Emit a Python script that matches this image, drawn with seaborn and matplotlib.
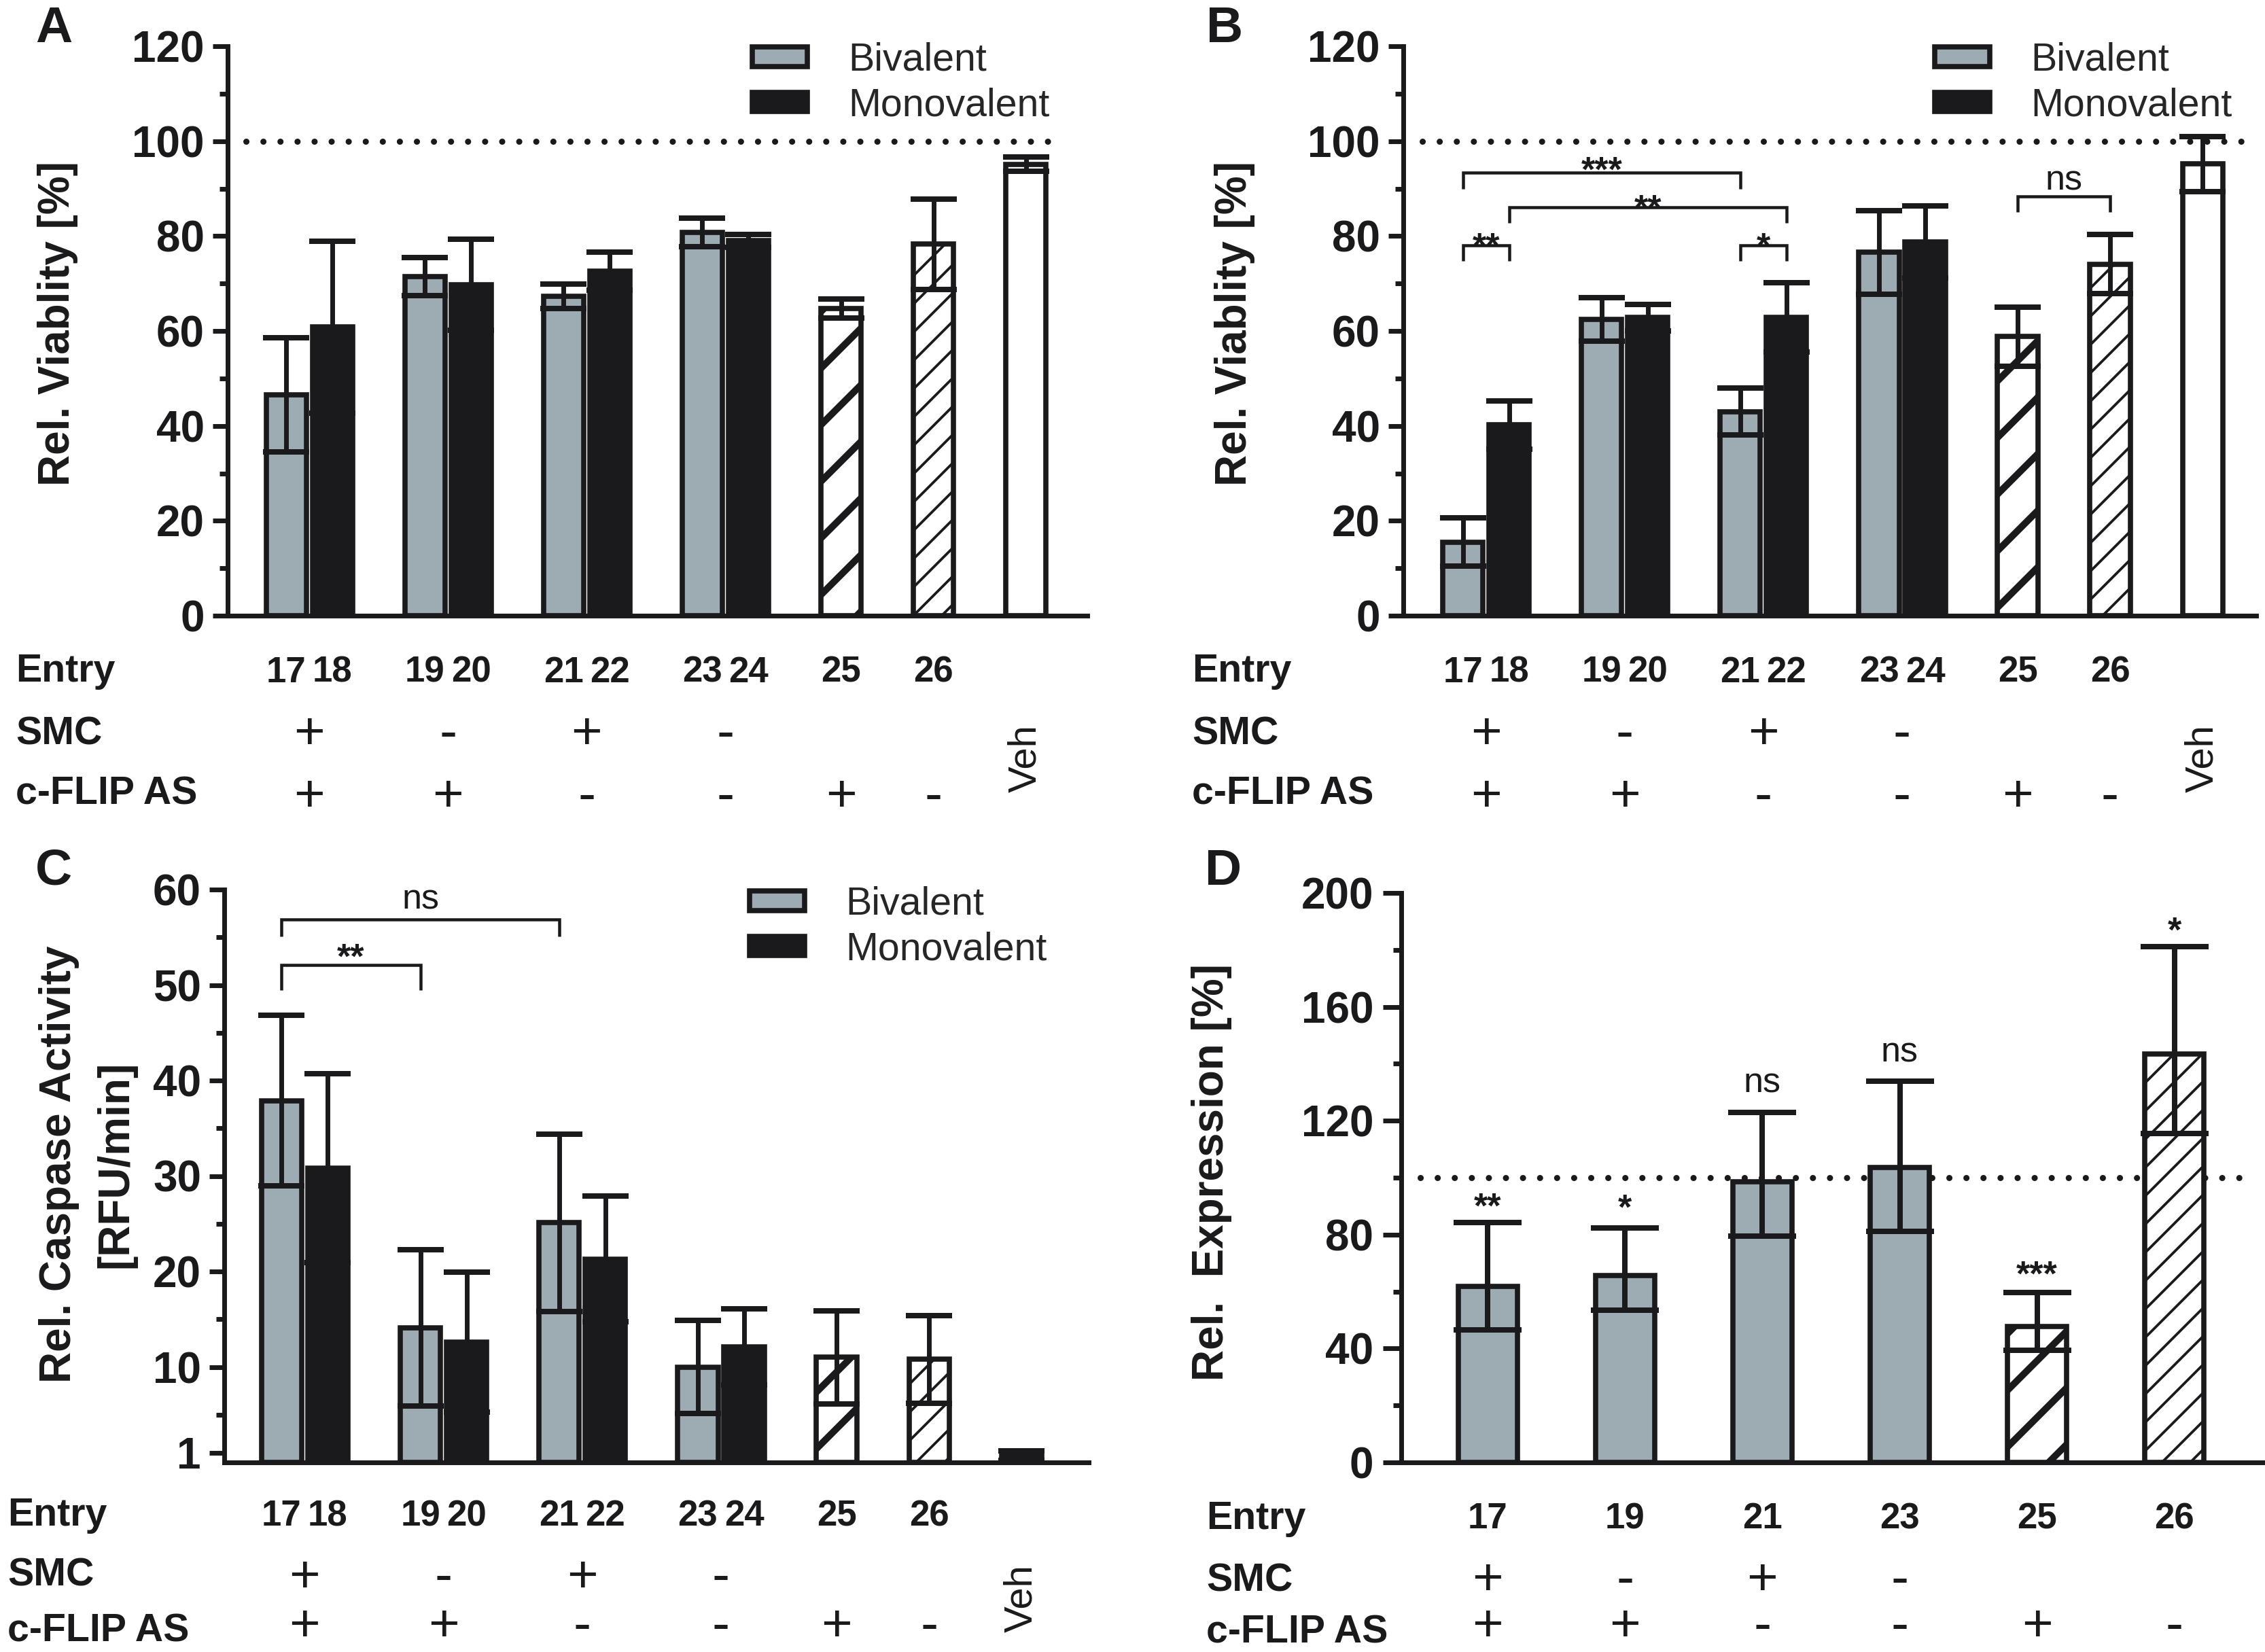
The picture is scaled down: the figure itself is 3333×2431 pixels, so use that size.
import numpy as np
import pandas as pd
import matplotlib
matplotlib.use("Agg")
import matplotlib.pyplot as plt
import seaborn as sns
from matplotlib.patches import Patch
from matplotlib.ticker import FixedLocator
from matplotlib.transforms import blended_transform_factory

# ---------------- values ----------------
entries = ["17", "18", "19", "20", "21", "22", "23", "24", "25", "26", "Veh"]
groups = [["17", "18"], ["19", "20"], ["21", "22"], ["23", "24"], ["25"], ["26"], ["Veh"]]
smc_marks = ["+", "-", "+", "-", "", "", ""]
flip_marks = ["+", "+", "-", "-", "+", "-", ""]

# A: relative viability [%]
viab_a_mean = [46.5, 60.8, 71.4, 69.7, 67.3, 72.6, 80.7, 79.0, 64.7, 78.3, 95.1]
viab_a_sd = [12.0, 18.1, 4.0, 9.6, 2.6, 4.0, 3.0, 1.4, 2.0, 9.5, 1.5]

# B: relative viability [%]
viab_b_mean = [15.5, 40.2, 62.4, 62.8, 43.0, 62.8, 76.6, 78.8, 58.8, 74.1, 95.2]
viab_b_sd = [5.1, 5.1, 4.6, 2.8, 4.9, 7.3, 8.8, 7.6, 6.2, 6.2, 5.8]
# (left, right, bracket height, text centre, label)
sig_b = [("17", "18", 78.1, 79.8, "**"),
         ("17", "21", 93.3, 95.8, "***"),
         ("18", "22", 86.0, 87.8, "**"),
         ("21", "22", 78.1, 79.8, "*"),
         ("25", "26", 88.4, 91.7, "ns")]

# C: caspase activity [RFU/min]
casp_mean = [37.9, 30.8, 14.1, 12.6, 25.1, 21.3, 10.0, 12.1, 11.0, 10.8, 0.7]
casp_sd = [8.9, 9.9, 8.2, 7.3, 9.3, 6.6, 4.9, 4.0, 4.9, 4.6, 0.5]
sig_c = [("17", "19", 52.1, 53.9, "**"),
         ("17", "21", 56.9, 58.9, "ns")]

# D: relative expression [%]
expr_entries = ["17", "19", "21", "23", "25", "26"]
expr_mean = [61.8, 65.7, 98.5, 103.6, 47.8, 143.5]
expr_lo = [46.5, 53.5, 79.5, 81.2, 39.4, 115.4]
expr_hi = [84.2, 82.3, 122.8, 134.0, 59.7, 181.2]
expr_sig = ["**", "*", "ns", "ns", "***", "*"]
expr_sig_y = [93.0, 92.5, 133.3, 144.0, 69.3, 190.0]
expr_smc = ["+", "-", "+", "-", "", ""]
expr_flip = ["+", "+", "-", "-", "+", "-"]

# ---------------- look ----------------
INK = "#1a1a1c"
GRAY = "#9dacb2"
W, H, DPI = 3333, 2431, 250

sns.set_style("ticks")
plt.rcParams["font.family"] = ["Liberation Sans", "DejaVu Sans"]
plt.rcParams["hatch.linewidth"] = 2.0
plt.rcParams["hatch.color"] = INK


def fx(px):
    return px / W


def fy(px):
    return 1 - px / H


fig = plt.figure(figsize=(W / DPI, H / DPI), dpi=DPI)


def make_axes(left, right, top, bottom):
    return fig.add_axes([fx(left), fy(bottom), (right - left) / W, (bottom - top) / H])


axA = make_axes(335, 1600, 68, 906)
axB = make_axes(2065, 3320, 68, 906)
axC = make_axes(330, 1602, 1309, 2152)
axD = make_axes(2062, 3333, 1314, 2152)

# slot positions: pairs touch, one empty slot between groups
pos = {}
cur = 0
for g in groups:
    for e in g:
        pos[e] = cur
        cur += 1
    cur += 1
positions = [pos[e] for e in entries]


def kind_of(e):
    if e == "Veh":
        return "veh"
    if e == "25":
        return "thick"
    if e == "26":
        return "thin"
    return "biv" if int(e) % 2 == 1 else "mono"


def set_hatch_lw(p, lw):
    if hasattr(p, "set_hatch_linewidth"):
        p.set_hatch_linewidth(lw)


def style_bar(p, kind):
    p.set_edgecolor(INK)
    p.set_linewidth(2.2)
    if kind == "biv":
        p.set_facecolor(GRAY)
    elif kind == "mono":
        p.set_facecolor(INK)
    elif kind == "thick":
        p.set_facecolor("white")
        p.set_hatch("/")
        set_hatch_lw(p, 2.9)
    elif kind == "thin":
        p.set_facecolor("white")
        p.set_hatch("//")
        set_hatch_lw(p, 1.1)
    else:
        p.set_facecolor("white")


def style_axis(ax, ymax, majors, minors, ticklen=6.3, pad=3.5):
    ax.set_ylim(0, ymax)
    sns.despine(ax=ax)
    for s in ("left", "bottom"):
        ax.spines[s].set_linewidth(2.0)
        ax.spines[s].set_color(INK)
    ax.set_yticks(majors, labels=[str(t) for t in majors], fontsize=18.4,
                  fontweight="bold", color=INK)
    ax.yaxis.set_minor_locator(FixedLocator(minors))
    ax.tick_params(axis="y", which="major", length=ticklen, width=2.0, color=INK, pad=pad)
    ax.tick_params(axis="y", which="minor", length=3.5, width=2.0, color=INK)
    ax.tick_params(axis="x", which="both", bottom=False, labelbottom=False)
    ax.set_xlabel("")
    ax.set_facecolor("none")


def dotted(ax, y, x0, x1):
    ax.axhline(y, xmin=x0, xmax=x1, color=INK, lw=2.6, linestyle=(0, (0.01, 2.77)),
               dash_capstyle="round", zorder=0.5)


def bar_panel(ax, means, sds, xlim):
    df = pd.DataFrame({"pos": positions, "val": means})
    sns.barplot(data=df, x="pos", y="val", native_scale=True, width=0.87,
                errorbar=None, color=GRAY, ax=ax, zorder=2)
    for p in ax.patches:
        c = p.get_x() + p.get_width() / 2
        i = int(np.argmin([abs(c - q) for q in positions]))
        style_bar(p, kind_of(entries[i]))
    ax.errorbar(positions, means, yerr=sds, fmt="none", ecolor=INK, elinewidth=2.0,
                capsize=9.8, capthick=2.3, zorder=3)
    ax.set_xlim(*xlim)
    ax.set_ylabel("")


def bracket(ax, a, b, y, leg):
    x1, x2 = pos[a], pos[b]
    ax.plot([x1, x1, x2, x2], [y - leg, y, y, y - leg], color=INK, lw=1.3,
            solid_joinstyle="miter", solid_capstyle="butt", zorder=4)


def sig_text(ax, x, y, label, size=15):
    # y is where the glyph centre sits; asterisks ride high in the em box
    star = "*" in label
    shift = -0.57 if star else -0.26
    ax.annotate(label, (x, y), xytext=(0, shift * size), textcoords="offset points",
                ha="center", va="baseline", fontsize=size,
                fontweight="bold" if star else "normal", color=INK, zorder=5)


def legend(ax, left_px, top_px):
    handles = [Patch(facecolor=GRAY, edgecolor=INK, linewidth=2.2, label="Bivalent"),
               Patch(facecolor=INK, edgecolor=INK, linewidth=2.2, label="Monovalent")]
    ax.legend(handles=handles, loc="upper left", bbox_to_anchor=(fx(left_px), fy(top_px)),
              bbox_transform=fig.transFigure, frameon=False, fontsize=16.5,
              handlelength=1.42, handleheight=0.39, handletextpad=1.05,
              labelspacing=0.22, borderpad=0, borderaxespad=0)


def panel_letter(letter, x_px, y_px):
    fig.text(fx(x_px), fy(y_px), letter, fontsize=21.6, fontweight="bold", color=INK,
             ha="center", va="center")


def table(ax, label_x, base, mark_base, numbers, num_x, smc, flip, mark_x, veh=None):
    tr = blended_transform_factory(ax.transData, fig.transFigure)
    for name, b in zip(["Entry", "SMC", "c-FLIP AS"], base):
        fig.text(fx(label_x), fy(b), name, fontsize=16.5, fontweight="bold",
                 color=INK, ha="left", va="baseline")
    for n, x in zip(numbers, num_x):
        ax.text(x, fy(mark_base[0]), n, transform=tr, fontsize=15.2, fontweight="bold",
                color=INK, ha="center", va="baseline")
    for marks, b in zip([smc, flip], mark_base[1:]):
        for m, x in zip(marks, mark_x):
            if m:
                ax.text(x, fy(b), m, transform=tr, fontsize=22.5, color=INK,
                        ha="center", va="baseline")
    if veh is not None:
        ax.text(pos["Veh"], fy(veh), "Veh", transform=tr, fontsize=16.7, color=INK,
                rotation=90, ha="center", va="center")


group_x = [np.mean([pos[e] for e in g]) for g in groups]
num_entries = [e for e in entries if e != "Veh"]
num_x = [pos[e] for e in num_entries]

# ---------------- A ----------------
bar_panel(axA, viab_a_mean, viab_a_sd, (-1.27, 17.33))
style_axis(axA, 120, list(range(0, 121, 20)), list(range(10, 120, 20)))
dotted(axA, 100, 0.021, 0.962)
axA.set_ylabel("Rel. Viablity [%]", fontsize=18.4, fontweight="bold", color=INK)
axA.yaxis.label.set_va("center")
axA.yaxis.set_label_coords(-0.198, 0.513)
legend(axA, 1107, 62)
panel_letter("A", 79, 43)
table(axA, 23, [1003, 1096, 1184], [1004, 1102, 1194], num_entries, num_x,
      smc_marks, flip_marks, group_x, veh=1116)

# ---------------- B ----------------
bar_panel(axB, viab_b_mean, viab_b_sd, (-1.29, 17.16))
style_axis(axB, 120, list(range(0, 121, 20)), list(range(10, 120, 20)))
dotted(axB, 100, 0.022, 0.99)
axB.set_ylabel("Rel. Viablity [%]", fontsize=18.4, fontweight="bold", color=INK)
axB.yaxis.label.set_va("center")
axB.yaxis.set_label_coords(-0.198, 0.513)
for a, b, y, ty, lab in sig_b:
    bracket(axB, a, b, y, 3.3)
    sig_text(axB, (pos[a] + pos[b]) / 2, ty, lab)
legend(axB, 2847, 62)
panel_letter("B", 1802, 43)
table(axB, 1754, [1003, 1096, 1184], [1004, 1102, 1194], num_entries, num_x,
      smc_marks, flip_marks, group_x, veh=1116)

# ---------------- C ----------------
bar_panel(axC, casp_mean, casp_sd, (-1.24, 17.45))
style_axis(axC, 60, [1, 10, 20, 30, 40, 50, 60], list(range(5, 60, 10)))
axC.set_ylabel("Rel. Caspase Activity\n[RFU/min]", fontsize=18.4, fontweight="bold",
               color=INK, linespacing=1.5)
axC.yaxis.label.set_va("center")
axC.yaxis.set_label_coords(-0.158, 0.52)
for (a, b, y, ty, lab), leg in zip(sig_c, [2.6, 1.8]):
    bracket(axC, a, b, y, leg)
    sig_text(axC, (pos[a] + pos[b]) / 2, ty, lab)
legend(axC, 1103, 1304)
panel_letter("C", 79, 1282)
table(axC, 11, [2245, 2334, 2416], [2245, 2343, 2415], num_entries, num_x,
      smc_marks, flip_marks, group_x, veh=2352)

# ---------------- D ----------------
dfD = pd.DataFrame({"entry": expr_entries, "val": expr_mean})
sns.barplot(data=dfD, x="entry", y="val", order=expr_entries, width=0.43,
            errorbar=None, color=GRAY, ax=axD, zorder=2)
for p, e in zip(axD.patches, expr_entries):
    style_bar(p, kind_of(e) if e in ("25", "26") else "biv")
xd = np.arange(len(expr_entries))
err = [np.array(expr_mean) - np.array(expr_lo), np.array(expr_hi) - np.array(expr_mean)]
axD.errorbar(xd, expr_mean, yerr=err, fmt="none", ecolor=INK, elinewidth=2.3,
             capsize=14.4, capthick=2.3, zorder=3)
axD.set_xlim(-0.63, 5.66)
axD.set_ylabel("")
style_axis(axD, 200, list(range(0, 201, 40)), list(range(20, 200, 40)), ticklen=7.8, pad=4)
dotted(axD, 100, 0.022, 0.98)
axD.set_ylabel("Rel.  Expression [%]", fontsize=18.4, fontweight="bold", color=INK)
axD.yaxis.label.set_va("center")
axD.yaxis.set_label_coords(-0.2195, 0.51)
for x, y, lab in zip(xd, expr_sig_y, expr_sig):
    sig_text(axD, x, y, lab)
panel_letter("D", 1800, 1282)
trD = blended_transform_factory(axD.transData, fig.transFigure)
for name, b in zip(["Entry", "SMC", "c-FLIP AS"], [2250, 2341, 2417]):
    fig.text(fx(1775), fy(b), name, fontsize=16.5, fontweight="bold", color=INK,
             ha="left", va="baseline")
for x, n in zip(xd, expr_entries):
    axD.text(x, fy(2249), n, transform=trD, fontsize=15.2, fontweight="bold",
             color=INK, ha="center", va="baseline")
for marks, b in zip([expr_smc, expr_flip], [2347, 2415]):
    for x, m in zip(xd, marks):
        if m:
            axD.text(x, fy(b), m, transform=trD, fontsize=22.5, color=INK,
                     ha="center", va="baseline")

fig.savefig("out.png", dpi=DPI)
